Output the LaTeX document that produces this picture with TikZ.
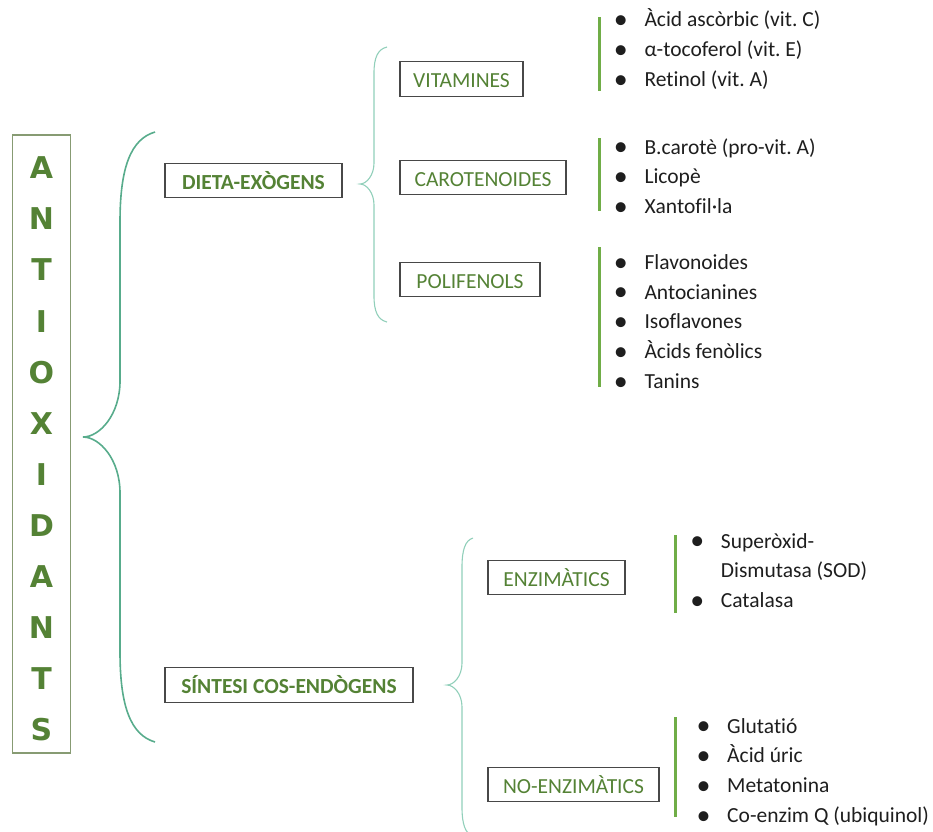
\documentclass[tikz,border=0pt]{standalone}
\usepackage{fontspec}
\setmainfont{Carlito}[Ligatures=NoCommon]
\newfontfamily\bigletters{DejaVu Sans}
\frenchspacing
\definecolor{leafgreen}{RGB}{84,130,53}
\definecolor{bargreen}{RGB}{112,173,71}
\definecolor{bracegreen}{RGB}{88,172,140}
\definecolor{palebrace}{RGB}{145,207,186}
\definecolor{boxgray}{RGB}{72,72,72}
\definecolor{antiframe}{RGB}{135,155,115}
\definecolor{itemtext}{RGB}{30,30,30}
\newcommand\bul{\makebox[12pt]{\raisebox{-1.8pt}{\scalebox{1.3}{\textbullet}}}}
% style, x end, x line, x tip, y top, y tip, y bottom, end curve, tip curve
\newcommand\wordbrace[9]{%
  \draw[#1] (#2,#5) .. controls ({#3+0.3*(#2-#3)},{#5+0.08*#8}) and (#3,{#5+0.4*#8}) .. (#3,{#5+#8})
    -- (#3,{#6-#9}) .. controls (#3,{#6-0.4*#9}) and ({#4+0.45*(#3-#4)},#6) .. (#4,#6)
    .. controls ({#4+0.45*(#3-#4)},#6) and (#3,{#6+0.4*#9}) .. (#3,{#6+#9})
    -- (#3,{#7-#8}) .. controls (#3,{#7-0.4*#8}) and ({#3+0.3*(#2-#3)},{#7-0.08*#8}) .. (#2,#7);}
\begin{document}
\begin{tikzpicture}[x=1pt, y=-1pt,
  box/.style={draw=boxgray, line width=1.2pt, minimum height=34.5pt, inner sep=0pt,
     text height=17.8pt, text depth=0pt, text=leafgreen, font=\fontsize{21.5}{26}\selectfont},
  mainbox/.style={box, font=\bfseries\fontsize{21.5}{26}\selectfont},
  items/.style={anchor=base west, inner sep=0pt, text=itemtext,
     font=\fontsize{21.5}{29.75}\selectfont},
  bigbrace/.style={draw=bracegreen, line width=1.6pt},
  smallbrace/.style={draw=palebrace, line width=1.1pt},
  bar/.style={draw=bargreen, line width=3pt}]
\useasboundingbox (0,0) rectangle (933,831);
\node [draw=antiframe, line width=1.2pt, minimum width=58pt, minimum height=618pt,
  inner sep=0pt, align=center, text=leafgreen,
  font=\bigletters\bfseries\fontsize{30}{51.1}\selectfont] (anti) at (41.5,444)
  {\rule{0pt}{32pt}A\\N\\T\\I\\O\\X\\I\\D\\A\\N\\T\\S};
\node [mainbox, minimum width=177pt] (dieta) at (253.5,180.5) {DIETA-EXÒGENS};
\node [mainbox, minimum width=248pt] (sintesi) at (289,685) {SÍNTESI COS-ENDÒGENS};
\node [box, minimum width=123pt] (vit) at (461.5,79) {VITAMINES};
\node [box, minimum width=166pt] (car) at (483,177.5) {CAROTENOIDES};
\node [box, minimum width=140pt] (pol) at (470,279.5) {POLIFENOLS};
\node [box, minimum width=137pt] (enz) at (556.5,577.5) {ENZIMÀTICS};
\node [box, minimum width=171pt] (noenz) at (573.5,784.5) {NO-ENZIMÀTICS};
% lists
\node [items] (vitl) at (614.7,26.7) {\begin{tabular}[t]{@{}l@{\hspace{17.6pt}}l@{}}
  \bul & Àcid ascòrbic (vit. C)\\
  \bul & α-tocoferol (vit. E)\\
  \bul & Retinol (vit. A)
\end{tabular}};
\node [items] (carl) at (614.7,154) {\begin{tabular}[t]{@{}l@{\hspace{17.6pt}}l@{}}
  \bul & B.carotè (pro-vit. A)\\
  \bul & Licopè\\
  \bul & Xantofil·la
\end{tabular}};
\node [items] (poll) at (614.7,269.3) {\begin{tabular}[t]{@{}l@{\hspace{17.6pt}}l@{}}
  \bul & Flavonoides\\
  \bul & Antocianines\\
  \bul & Isoflavones\\
  \bul & Àcids fenòlics\\
  \bul & Tanins
\end{tabular}};
\node [items] (enzl) at (691.1,548) {\begin{tabular}[t]{@{}l@{\hspace{17.6pt}}l@{}}
  \bul & Superòxid-\\
       & Dismutasa (SOD)\\
  \bul & Catalasa
\end{tabular}};
\node [items] (noenzl) at (697.4,733) {\begin{tabular}[t]{@{}l@{\hspace{17.6pt}}l@{}}
  \bul & Glutatió\\
  \bul & Àcid úric\\
  \bul & Metatonina\\
  \bul & Co-enzim Q (ubiquinol)
\end{tabular}};
\draw [bar] (599,17) -- (599,91);
\draw [bar] (599,138) -- (599,211);
\draw [bar] (599,247) -- (599,387);
\draw [bar] (675,535) -- (675,613);
\draw [bar] (675,717) -- (675,817);
% braces
\wordbrace{bigbrace}{155}{120}{83}{132}{437}{742}{90}{56}
\wordbrace{smallbrace}{387}{374}{360}{47}{184}{322}{26}{21}
\wordbrace{smallbrace}{473}{462}{447}{538}{685}{836}{29}{22}
\end{tikzpicture}
\end{document}
